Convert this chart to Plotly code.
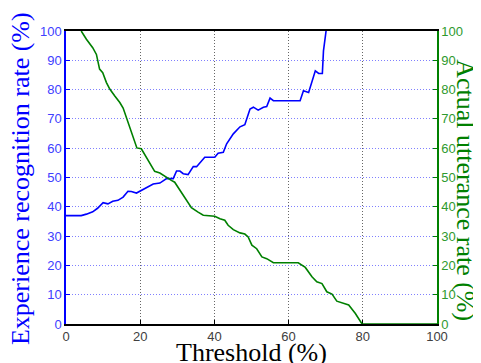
import plotly.graph_objects as go

# Experience recognition rate (left axis, blue)
recog_x = [0, 4.1, 5.5, 7.2, 8.5, 10, 11.3, 12.6, 14, 15.4, 16.7, 17.6, 19, 20.3, 22.1, 23.5,
           25.3, 27.1, 28.9, 29.8, 30.7, 31.6, 32.9, 34.3, 35.2, 37.4, 40.1, 41, 42.4, 43.3,
           45.1, 46.9, 48.2, 49.6, 50.5, 51.8, 53.2, 54.1, 55, 55.9, 63.1, 64, 65.4, 67.2,
           68.1, 69.1, 69.4, 70.1]
recog_y = [37, 37, 37.5, 38.3, 39.5, 41.4, 41, 41.9, 42.2, 43.3, 45.3, 45.2, 44.7, 45.6, 47, 47.8,
           48.1, 49.6, 49.6, 52.2, 52.2, 51.3, 51, 53.7, 53.7, 56.9, 56.9, 58.3, 58.6, 61.5,
           64.9, 67.3, 68, 73.4, 74, 73, 74, 74.2, 77.1, 76.2, 76.2, 79.6, 79, 86.4,
           85.5, 85.5, 93.2, 100]

# Actual utterance rate (right axis, green)
utter_x = [4.1, 5.5, 7.2, 8.2, 9.05, 9.9, 10.9, 11.8, 13.1, 14.5, 15.4, 16.3, 17.6, 18.5, 19.1,
           20.3, 21.2, 22.6, 23.9, 25.3, 26.2, 27.1, 28.4, 29.3, 30.7, 32.5, 33.8, 35.6, 37,
           40.1, 41.5, 42.8, 43.7, 45.1, 46.9, 48.2, 49.1, 50.1, 51.4, 52.8, 54.1, 55.9, 62.6,
           64.5, 66.3, 67.6, 69, 70.3, 71.7, 73, 74.8, 76.2, 78, 79.8, 100]
utter_y = [100, 97.2, 94.3, 92, 87, 85.8, 82.4, 80.2, 77.9, 75.6, 73.7, 70.5, 66, 62.6, 60.1,
           59.8, 57.8, 55.2, 52.1, 51.5, 50.7, 50.1, 49, 48.4, 45.6, 42.2, 39.7, 38.2, 37.1,
           36.8, 35.9, 35.4, 33.7, 32.2, 31.1, 30.7, 29.7, 26.9, 25.7, 22.9, 22.3, 20.9, 20.9,
           19.3, 16.1, 14.4, 13.8, 11, 10.2, 7.8, 7.2, 6.5, 3.6, 0, 0]

x_ticks = [0, 20, 40, 60, 80, 100]
y_ticks = [0, 10, 20, 30, 40, 50, 60, 70, 80, 90, 100]

BLUE = "#0000ff"
GREEN = "#008000"

fig = go.Figure()
fig.add_trace(go.Scatter(x=recog_x, y=recog_y, mode="lines",
                         line=dict(color=BLUE, width=1.6), yaxis="y", showlegend=False))
fig.add_trace(go.Scatter(x=utter_x, y=utter_y, mode="lines",
                         line=dict(color=GREEN, width=1.6), yaxis="y2", showlegend=False))

tick_font = dict(family="Liberation Sans, Arial, sans-serif", size=13)
serif = "Liberation Serif, Times New Roman, serif"

# page body adds an 8px offset, so the figure is 8px smaller and margins shifted
fig.update_layout(
    width=473, height=355,
    margin=dict(l=58, r=44, t=23, b=39),
    paper_bgcolor="white", plot_bgcolor="white",
    xaxis=dict(range=[0, 100], tickvals=x_ticks, ticks="inside", ticklen=4,
               tickcolor="black", showline=True, linecolor="black", linewidth=1.5,
               mirror=True, showgrid=True, gridcolor="#666666", griddash="1px,2px",
               gridwidth=1, zeroline=False, layer="below traces", automargin=False,
               tickfont=dict(color="#404040", **tick_font)),
    yaxis=dict(range=[0, 100], tickvals=y_ticks, ticks="inside", ticklen=4,
               tickcolor=BLUE, showline=True, linecolor=BLUE, linewidth=1.5,
               showgrid=True, gridcolor="#8080ff", griddash="1px,2px", gridwidth=1,
               zeroline=False, automargin=False,
               tickfont=dict(color="#4040ff", **tick_font)),
    yaxis2=dict(range=[0, 100], tickvals=y_ticks, ticks="inside", ticklen=4,
                tickcolor=GREEN, showline=True, linecolor=GREEN, linewidth=1.5,
                overlaying="y", side="right", showgrid=False, zeroline=False,
                automargin=False, tickfont=dict(color="#2e9a2e", **tick_font)),
    annotations=[
        dict(text="Experience recognition rate (%)", xref="paper", yref="paper",
             x=-0.124, y=0.498, xanchor="center", yanchor="middle", textangle=-90,
             showarrow=False, font=dict(family=serif, size=26, color=BLUE)),
        dict(text="Actual utterance rate (%)", xref="paper", yref="paper",
             x=1.078, y=0.457, xanchor="center", yanchor="middle", textangle=90,
             showarrow=False, font=dict(family=serif, size=26, color=GREEN)),
        dict(text="Threshold (%)", xref="paper", yref="paper",
             x=0.5, y=-0.097, xanchor="center", yanchor="middle",
             showarrow=False, font=dict(family=serif, size=26, color="black")),
    ],
)

fig.write_html("out.html")
